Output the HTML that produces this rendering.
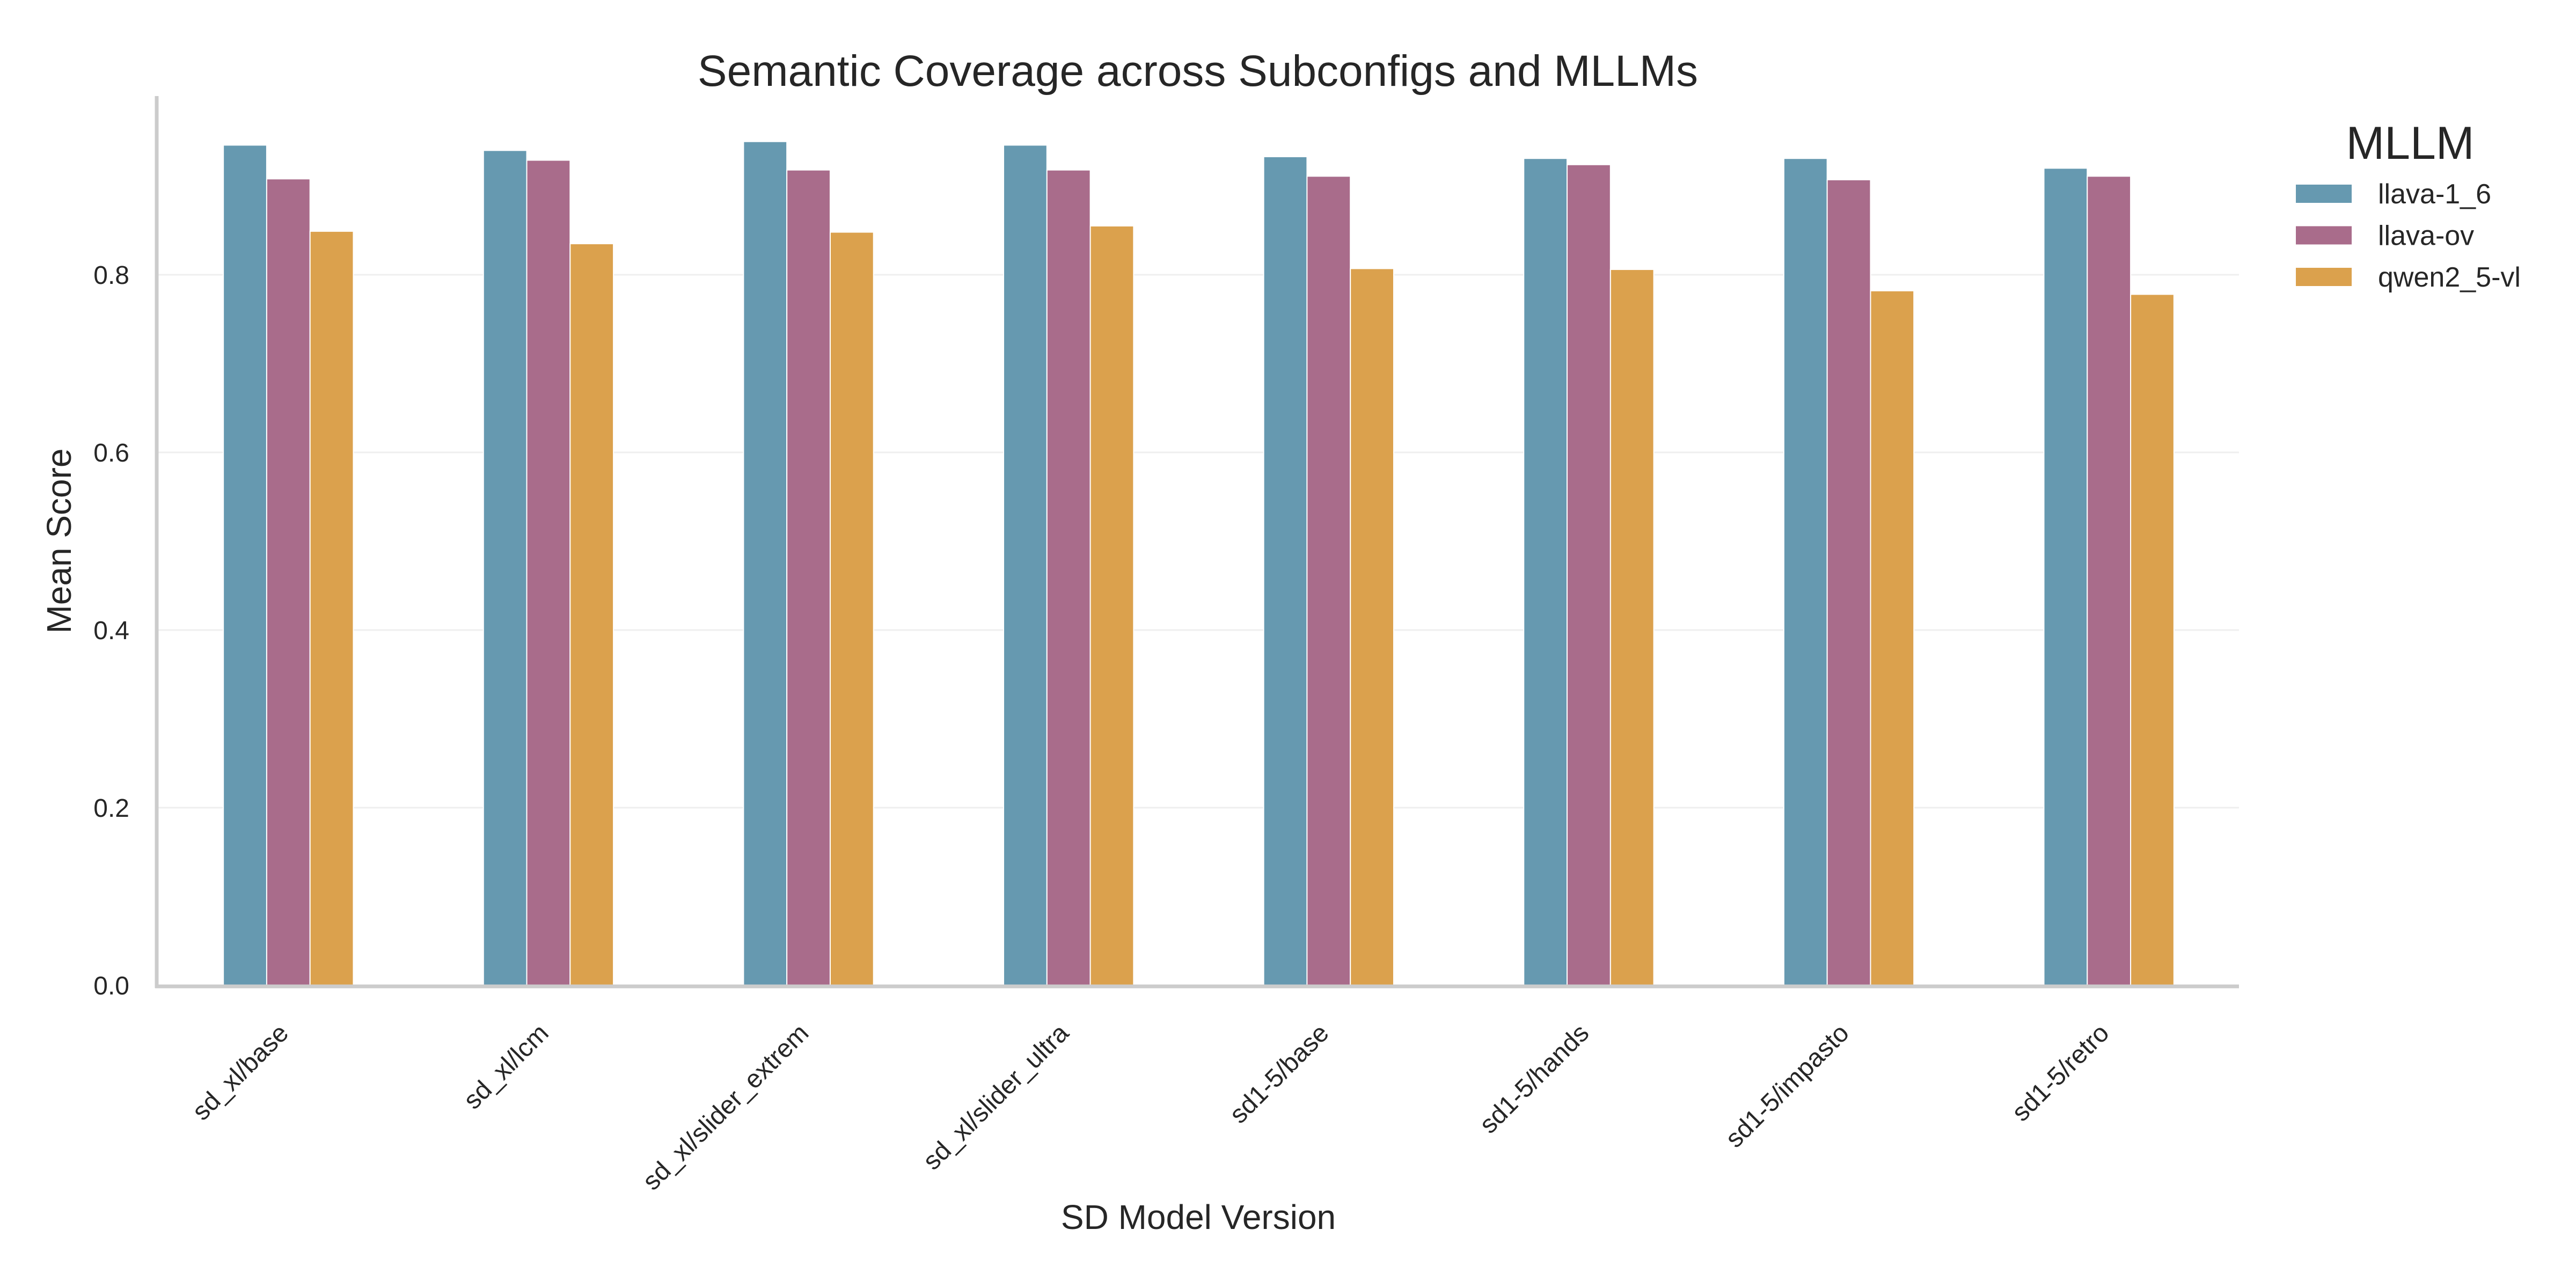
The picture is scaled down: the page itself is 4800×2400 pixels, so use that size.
<!DOCTYPE html>
<html><head><meta charset="utf-8"><style>
html,body{margin:0;padding:0;background:#fff;}
svg{display:block;font-family:"Liberation Sans",Arial,sans-serif;}
</style></head><body>
<svg id="chart" width="4800" height="2400" viewBox="0 0 4800 2400" xmlns="http://www.w3.org/2000/svg">
<rect x="0" y="0" width="4800" height="2400" fill="#fff"/>
<g id="grid"></g>
<g id="bars"></g>
<g id="axes"></g>
<text x="2232" y="160" font-size="82" fill="#262626" text-anchor="middle">Semantic Coverage across Subconfigs and MLLMs</text>
<text x="2233" y="2290" font-size="64" fill="#262626" text-anchor="middle">SD Model Version</text>
<text transform="translate(132 1008) rotate(-90)" font-size="64" fill="#262626" text-anchor="middle">Mean Score</text>
<g id="legend">
<text x="4491" y="296" font-size="86" fill="#262626" text-anchor="middle">MLLM</text>
</g>
</svg>
<script>
const categories = ["sd_xl/base","sd_xl/lcm","sd_xl/slider_extrem","sd_xl/slider_ultra","sd1-5/base","sd1-5/hands","sd1-5/impasto","sd1-5/retro"];
const seriesNames = ["llava-1_6","llava-ov","qwen2_5-vl"];
const llava16 = [0.946,0.940,0.950,0.946,0.933,0.931,0.931,0.920];
const llavaOv = [0.908,0.929,0.918,0.918,0.911,0.924,0.907,0.911];
const qwen25 = [0.849,0.835,0.848,0.855,0.807,0.806,0.782,0.778];
const yTicks = [0.0,0.2,0.4,0.6,0.8];
const yTickLabels = ["0.0","0.2","0.4","0.6","0.8"];

const NS = "http://www.w3.org/2000/svg";
const colors = ["#6699b0","#a96c8b","#dba14d"];
const series = [llava16, llavaOv, qwen25];
const X0 = 295, X1 = 4172, Y0 = 1836, PX_PER_UNIT = 1655;
const band = (X1 - X0) / categories.length;
const barW = band * 0.5 / 3;
function xScale(i){ return X0 + band * (i + 0.5); }
function yScale(v){ return Y0 - v * PX_PER_UNIT; }
function mk(tag, attrs, parent){ const e = document.createElementNS(NS, tag); for (const k in attrs) e.setAttribute(k, attrs[k]); parent.appendChild(e); return e; }

const grid = document.getElementById('grid');
const axes = document.getElementById('axes');
yTicks.forEach((t, i) => {
  const y = yScale(t);
  if (t > 0) {
    const gl = mk('line', {x1: X0, x2: X1, y1: y, y2: y, stroke: '#efefef', 'stroke-width': 3}, grid);
    
    
  }
  const tl = mk('text', {x: 241, y: y + 17, 'font-size': 48, fill: '#262626', 'text-anchor': 'end'}, axes);
  tl.textContent = yTickLabels[i];
  
  
});

const barsG = document.getElementById('bars');
categories.forEach((c, i) => {
  const cx = xScale(i);
  series.forEach((s, j) => {
    const x = cx + (j - 1.5) * barW;
    const y = yScale(s[i]);
    const r = mk('rect', {x: x, y: y, width: barW, height: Y0 - y, fill: colors[j], stroke: '#fff', 'stroke-width': 2}, barsG);
    
    
  });
  const px = cx + 3, py = 1928;
  const lab = mk('text', {x: px, y: py, 'font-size': 48, fill: '#262626', 'text-anchor': 'end', transform: 'rotate(-45 ' + px + ' ' + py + ')'}, axes);
  lab.textContent = c;
  
  
});

const ls = mk('line', {x1: X0 - 3, x2: X0 - 3, y1: 179, y2: Y0 + 5, stroke: '#cccccc', 'stroke-width': 7}, axes);


const bs = mk('line', {x1: X0 - 6, x2: X1, y1: Y0 + 2, y2: Y0 + 2, stroke: '#cccccc', 'stroke-width': 7}, axes);



const leg = document.getElementById('legend');
seriesNames.forEach((n, j) => {
  const top = 343 + j * 77.5;
  const p = mk('rect', {x: 4277, y: top, width: 106, height: 36, fill: colors[j], stroke: '#fff', 'stroke-width': 2}, leg);
  
  
  const t = mk('text', {x: 4431, y: top + 36, 'font-size': 52, fill: '#262626'}, leg);
  t.textContent = n;
  
  
});
</script>
</body></html>
